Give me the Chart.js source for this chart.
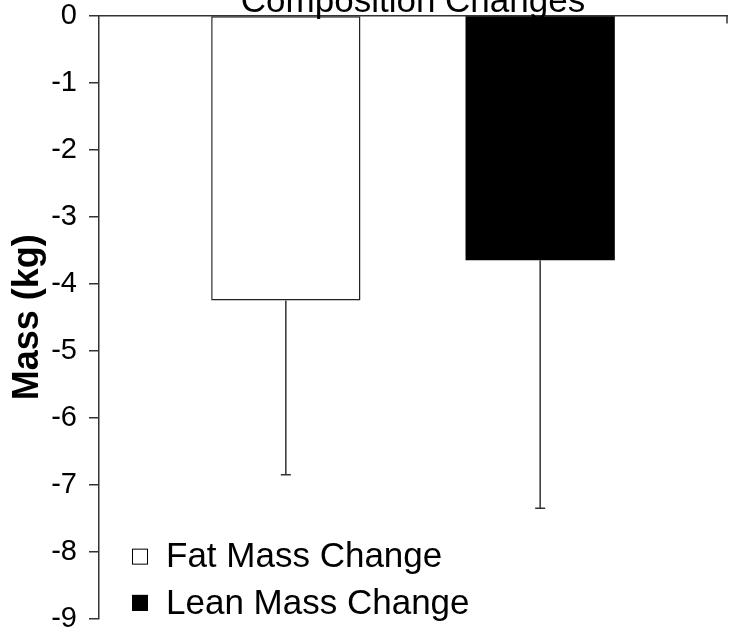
<!DOCTYPE html>
<html>
<head>
<meta charset="utf-8">
<script src="https://cdn.jsdelivr.net/npm/chart.js@4"></script>
<style>
  html, body { margin: 0; padding: 0; background: #fff; }
  #wrap { position: relative; width: 731px; height: 629px; overflow: hidden; }
</style>
</head>
<body>
<div id="wrap"><canvas id="c" width="731" height="629"></canvas></div>
<script>
const chartTitle = "Composition Changes";
const categories = [""];
const seriesNames = ["Fat Mass Change", "Lean Mass Change"];
const fatMean = [-4.25];
const leanMean = [-3.65];
const fatSD = [2.6];
const leanSD = [3.7];
const yTicks = [0, -1, -2, -3, -4, -5, -6, -7, -8, -9];
const yTitle = "Mass (kg)";

const FONT = "'Liberation Sans', Arial, sans-serif";

const errorBars = {
  id: 'errorBars',
  afterDatasetsDraw(chart) {
    const ctx = chart.ctx;
    const y = chart.scales.y;
    ctx.save();
    ctx.strokeStyle = '#333';
    ctx.lineWidth = 1.5;
    chart.data.datasets.forEach((ds, i) => {
      const meta = chart.getDatasetMeta(i);
      meta.data.forEach((bar, j) => {
        const v = ds.data[j];
        const e = ds.sd[j];
        const y0 = y.getPixelForValue(v);
        const y1 = y.getPixelForValue(v - e);
        ctx.beginPath();
        ctx.moveTo(bar.x, y0);
        ctx.lineTo(bar.x, y1);
        ctx.moveTo(bar.x - 5, y1);
        ctx.lineTo(bar.x + 5, y1);
        ctx.stroke();
      });
    });
    ctx.restore();
  }
};

const decor = {
  id: 'decor',
  afterDraw(chart) {
    const ctx = chart.ctx;
    const a = chart.chartArea;
    ctx.save();
    // title (partly above the canvas)
    ctx.fillStyle = '#000';
    ctx.font = "35px " + FONT;
    ctx.textAlign = 'center';
    ctx.textBaseline = 'alphabetic';
    ctx.fillText(chartTitle, (a.left + a.right) / 2, 12);
    // small tick at right end of category axis
    ctx.strokeStyle = '#333';
    ctx.lineWidth = 1.5;
    ctx.beginPath();
    ctx.moveTo(a.right, a.top);
    ctx.lineTo(a.right, a.top + 8);
    ctx.stroke();
    // legend inside plot area
    const y = chart.scales.y;
    const rows = [y.getPixelForValue(-8.07), y.getPixelForValue(-8.76)];
    ctx.font = "35px " + FONT;
    ctx.textAlign = 'left';
    ctx.textBaseline = 'middle';
    chart.data.datasets.forEach((ds, i) => {
      const cy = rows[i];
      const bx = a.left + 33;
      const s = 16;
      ctx.fillStyle = ds.backgroundColor;
      ctx.fillRect(bx, cy - s / 2, s, s);
      ctx.strokeStyle = '#000';
      ctx.lineWidth = 1;
      ctx.strokeRect(bx + 0.5, cy - s / 2 + 0.5, s - 1, s - 1);
      ctx.fillStyle = '#000';
      ctx.fillText(ds.label, bx + 34, cy + 1);
    });
    ctx.restore();
  }
};

new Chart(document.getElementById('c'), {
  type: 'bar',
  data: {
    labels: categories,
    datasets: [
      { label: seriesNames[0], data: fatMean, sd: fatSD, backgroundColor: '#ffffff', borderColor: '#222', borderWidth: 1.5, borderSkipped: false },
      { label: seriesNames[1], data: leanMean, sd: leanSD, backgroundColor: '#000000', borderColor: '#000', borderWidth: 0, borderSkipped: false }
    ]
  },
  options: {
    responsive: false,
    animation: false,
    devicePixelRatio: 1,
    layout: { padding: { top: 0, right: 4, bottom: 10, left: 0 } },
    datasets: { bar: { categoryPercentage: 0.81, barPercentage: 0.587 } },
    plugins: { legend: { display: false }, title: { display: false }, tooltip: { enabled: false } },
    scales: {
      x: {
        position: 'top',
        grid: { display: false, drawOnChartArea: false },
        border: { display: true, color: '#333', width: 1.5 },
        ticks: { display: false },
        afterFit(s) { s.height = 15.5; s.paddingLeft = 0; s.paddingRight = 0; }
      },
      y: {
        min: -9, max: 0,
        afterBuildTicks(s) { s.ticks = yTicks.map(v => ({ value: v })); },
        grid: { drawOnChartArea: false, drawTicks: true, tickLength: 10, color: '#333', lineWidth: 1.5 },
        border: { display: true, color: '#333', width: 1.5 },
        ticks: { color: '#000', font: { family: FONT, size: 29 }, padding: 12 },
        title: { display: true, text: yTitle, color: '#000', font: { family: FONT, size: 36, weight: 'bold' }, padding: { top: 6, bottom: 0 } },
        afterFit(s) { s.width = 99; s.paddingTop = 0; s.paddingBottom = 0; }
      }
    }
  },
  plugins: [errorBars, decor]
});
</script>
</body>
</html>
